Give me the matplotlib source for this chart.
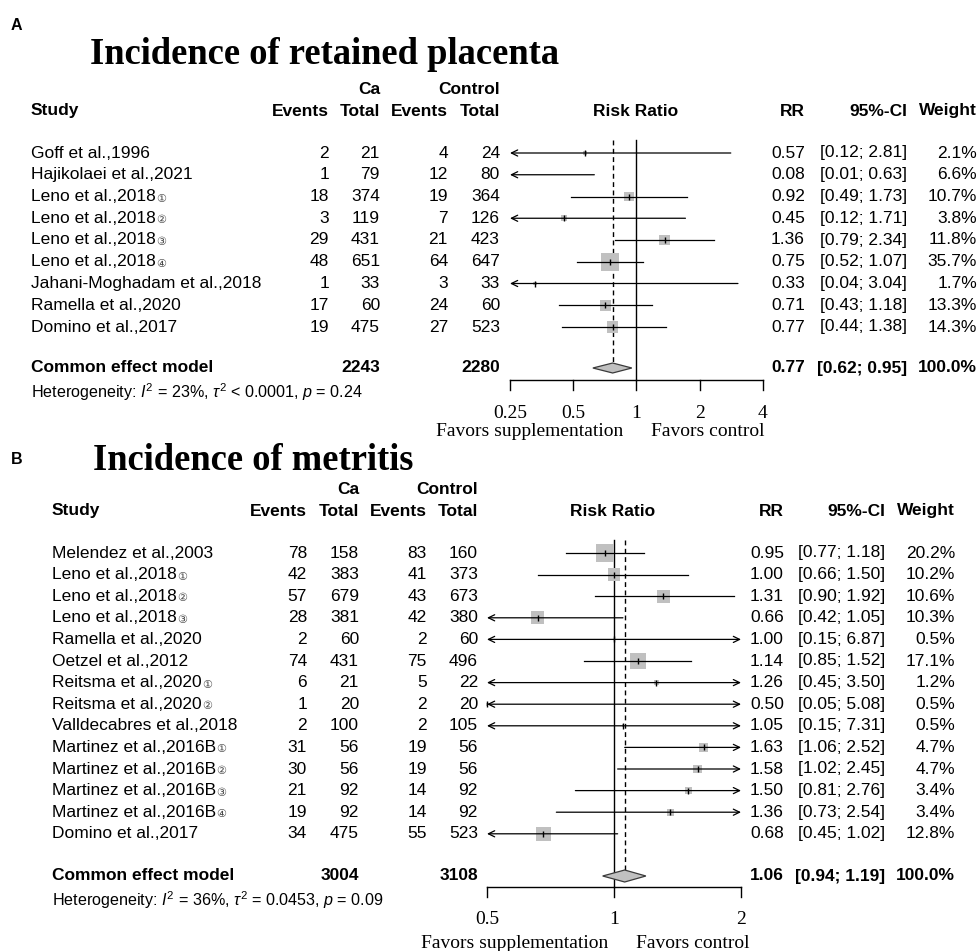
import matplotlib
matplotlib.use('Agg')
import matplotlib.pyplot as plt
import numpy as np

plt.rcParams['mathtext.fontset'] = 'custom'
plt.rcParams['mathtext.rm'] = 'Liberation Sans'
plt.rcParams['mathtext.it'] = 'Liberation Sans:italic'
plt.rcParams['mathtext.bf'] = 'Liberation Sans:bold'

SANS = ['Liberation Sans', 'DejaVu Sans']
SERIF = ['Liberation Serif', 'DejaVu Serif']

# ---------------- Data: Panel A ----------------
titleA = "Incidence of retained placenta"
studiesA = ["Goff et al.,1996", "Hajikolaei et al.,2021", "Leno et al.,2018", "Leno et al.,2018",
            "Leno et al.,2018", "Leno et al.,2018", "Jahani-Moghadam et al.,2018",
            "Ramella et al.,2020", "Domino et al.,2017"]
marksA = ["", "", "\u2460", "\u2461", "\u2462", "\u2463", "", "", ""]
evCaA = [2, 1, 18, 3, 29, 48, 1, 17, 19]
totCaA = [21, 79, 374, 119, 431, 651, 33, 60, 475]
evCtA = [4, 12, 19, 7, 21, 64, 3, 24, 27]
totCtA = [24, 80, 364, 126, 423, 647, 33, 60, 523]
rrA = [0.57, 0.08, 0.92, 0.45, 1.36, 0.75, 0.33, 0.71, 0.77]
loA = [0.12, 0.01, 0.49, 0.12, 0.79, 0.52, 0.04, 0.43, 0.44]
hiA = [2.81, 0.63, 1.73, 1.71, 2.34, 1.07, 3.04, 1.18, 1.38]
wA = [2.1, 6.6, 10.7, 3.8, 11.8, 35.7, 1.7, 13.3, 14.3]
pooledA = (0.77, 0.62, 0.95)
pooledTotA = (2243, 2280)
hetA = r"Heterogeneity: $I^2$ = 23%, $\tau^2$ < 0.0001, $p$ = 0.24"
ticksA = [0.25, 0.5, 1, 2, 4]
tickLabelsA = ["0.25", "0.5", "1", "2", "4"]

# ---------------- Data: Panel B ----------------
titleB = "Incidence of metritis"
studiesB = ["Melendez et al.,2003", "Leno et al.,2018", "Leno et al.,2018", "Leno et al.,2018",
            "Ramella et al.,2020", "Oetzel et al.,2012", "Reitsma et al.,2020", "Reitsma et al.,2020",
            "Valldecabres et al.,2018", "Martinez et al.,2016B", "Martinez et al.,2016B",
            "Martinez et al.,2016B", "Martinez et al.,2016B", "Domino et al.,2017"]
marksB = ["", "\u2460", "\u2461", "\u2462", "", "", "\u2460", "\u2461", "",
          "\u2460", "\u2461", "\u2462", "\u2463", ""]
evCaB = [78, 42, 57, 28, 2, 74, 6, 1, 2, 31, 30, 21, 19, 34]
totCaB = [158, 383, 679, 381, 60, 431, 21, 20, 100, 56, 56, 92, 92, 475]
evCtB = [83, 41, 43, 42, 2, 75, 5, 2, 2, 19, 19, 14, 14, 55]
totCtB = [160, 373, 673, 380, 60, 496, 22, 20, 105, 56, 56, 92, 92, 523]
rrB = [0.95, 1.00, 1.31, 0.66, 1.00, 1.14, 1.26, 0.50, 1.05, 1.63, 1.58, 1.50, 1.36, 0.68]
loB = [0.77, 0.66, 0.90, 0.42, 0.15, 0.85, 0.45, 0.05, 0.15, 1.06, 1.02, 0.81, 0.73, 0.45]
hiB = [1.18, 1.50, 1.92, 1.05, 6.87, 1.52, 3.50, 5.08, 7.31, 2.52, 2.45, 2.76, 2.54, 1.02]
wB = [20.2, 10.2, 10.6, 10.3, 0.5, 17.1, 1.2, 0.5, 0.5, 4.7, 4.7, 3.4, 3.4, 12.8]
pooledB = (1.06, 0.94, 1.19)
pooledTotB = (3004, 3108)
hetB = r"Heterogeneity: $I^2$ = 36%, $\tau^2$ = 0.0453, $p$ = 0.09"
ticksB = [0.5, 1, 2]
tickLabelsB = ["0.5", "1", "2"]

# ---------------- Figure ----------------
W, H = 979, 951
fig = plt.figure(figsize=(W / 100, H / 100), dpi=100)
bg = fig.add_axes([0, 0, 1, 1])
bg.set_xlim(0, W)
bg.set_ylim(H, 0)
bg.axis('off')
renderer = fig.canvas.get_renderer()

FS = 12.5
SQ = '#c0c0c0'


def draw_panel(letter, title, studies, marks, evCa, totCa, evCt, totCt, rr, lo, hi, w,
               pooled, pooledTot, het, ticks, tickLabels, L):
    # panel letter & title
    bg.text(L['letter'][0], L['letter'][1], letter, family=SANS, weight='bold', size=11.5,
            ha='left', va='center')
    bg.text(L['title'][0], L['title'][1], title, family=SERIF, weight='bold',
            size=L['title_fs'], ha='left', va='baseline')
    # headers
    hy1, hy2 = L['hy']
    c = L['cols']
    r = L['rcols']
    kw = dict(family=SANS, weight='bold', size=FS, va='center')
    bg.text(c[1], hy1, "Ca", ha='right', **kw)
    bg.text(c[3], hy1, "Control", ha='right', **kw)
    bg.text(L['sx'], hy2, "Study", ha='left', **kw)
    bg.text(c[0], hy2, "Events", ha='right', **kw)
    bg.text(c[1], hy2, "Total", ha='right', **kw)
    bg.text(c[2], hy2, "Events", ha='right', **kw)
    bg.text(c[3], hy2, "Total", ha='right', **kw)
    bg.text(L['rr_center'], hy2, "Risk Ratio", ha='center', **kw)
    bg.text(r[0], hy2, "RR", ha='right', **kw)
    bg.text(r[1], hy2, "95%-CI", ha='right', **kw)
    bg.text(r[2], hy2, "Weight", ha='right', **kw)

    n = len(studies)
    ys = [L['y0'] + i * L['dy'] for i in range(n)]
    kr = dict(family=SANS, size=FS, va='center')
    for i in range(n):
        y = ys[i]
        t = bg.text(L['sx'], y, studies[i], ha='left', **kr)
        if marks[i]:
            bb = t.get_window_extent(renderer)
            bg.text(bb.x1 + 0.5, y + 2, marks[i], family=['DejaVu Sans'], size=8,
                    color='#444444', ha='left', va='center')
        bg.text(c[0], y, str(evCa[i]), ha='right', **kr)
        bg.text(c[1], y, str(totCa[i]), ha='right', **kr)
        bg.text(c[2], y, str(evCt[i]), ha='right', **kr)
        bg.text(c[3], y, str(totCt[i]), ha='right', **kr)
        bg.text(r[0], y, f"{rr[i]:.2f}", ha='right', **kr)
        bg.text(r[1], y, f"[{lo[i]:.2f}; {hi[i]:.2f}]", ha='right', **kr)
        bg.text(r[2], y, f"{w[i]:.1f}%", ha='right', **kr)
    py = L['py']
    kb = dict(family=SANS, size=FS, va='center', weight='bold')
    bg.text(L['sx'], py, "Common effect model", ha='left', **kb)
    bg.text(c[1], py, str(pooledTot[0]), ha='right', **kb)
    bg.text(c[3], py, str(pooledTot[1]), ha='right', **kb)
    bg.text(r[0], py, f"{pooled[0]:.2f}", ha='right', **kb)
    bg.text(r[1], py, f"[{pooled[1]:.2f}; {pooled[2]:.2f}]", ha='right', **kb)
    bg.text(r[2], py, "100.0%", ha='right', **kb)
    bg.text(L['sx'], L['hety'], het, family=SANS, size=11.6, ha='left', va='center')

    # forest axes
    x0, x1 = L['fx']
    ax = fig.add_axes([x0 / W, 0, (x1 - x0) / W, 1])
    ax.set_xscale('log')
    xmin, xmax = ticks[0], ticks[-1]
    ax.set_xlim(xmin, xmax)
    ax.set_ylim(H, 0)
    ax.axis('off')
    ax.patch.set_alpha(0)

    # reference line and pooled dashed line
    ax.plot([1, 1], [L['reftop'], L['axy']], color='black', lw=1.0, clip_on=False, zorder=1)
    ax.plot([pooled[0], pooled[0]], [L['reftop'], py - L['dh']], color='black', lw=1.0,
            ls=(0, (3.5, 2.5)), clip_on=False, zorder=1)

    wmax = max(w)
    for i in range(n):
        y = ys[i]
        # square
        if xmin <= rr[i] <= xmax:
            side_px = L['sqmax'] * np.sqrt(w[i] / wmax)
            s = (side_px * 0.72) ** 2
            ax.scatter([rr[i]], [y], marker='s', s=s, color=SQ, edgecolors='none', zorder=2,
                       clip_on=False)
            ax.plot([rr[i]], [y], marker='|', ms=4.5, mew=1.0, color='black', zorder=4,
                    clip_on=False)
        a = max(lo[i], xmin)
        b = min(hi[i], xmax)
        left_out = lo[i] < xmin
        right_out = hi[i] > xmax
        if left_out and right_out:
            style = '<->'
        elif left_out:
            style = '<-'
        elif right_out:
            style = '->'
        else:
            style = '-'
        if style == '-':
            ax.plot([a, b], [y, y], color='black', lw=0.9, zorder=3, clip_on=False)
        else:
            ax.annotate('', xy=(b, y), xytext=(a, y),
                        arrowprops=dict(arrowstyle=style + ',head_length=0.45,head_width=0.22',
                                        lw=0.9, color='black', shrinkA=0, shrinkB=0),
                        zorder=3, annotation_clip=False)

    # diamond
    est, dl, du = pooled
    dh = L['dh']
    ax.fill([dl, est, du, est, dl], [py, py - dh, py, py + dh, py], facecolor=SQ,
            edgecolor='#3a3a3a', lw=0.9, zorder=3, clip_on=False)

    # x axis
    axy = L['axy']
    ax.plot([xmin, xmax], [axy, axy], color='black', lw=1.0, clip_on=False)
    for t, lab in zip(ticks, tickLabels):
        ax.plot([t, t], [axy, axy + 10], color='black', lw=1.0, clip_on=False)
        ax.text(t, L['tly'], lab, family=SERIF, size=14, ha='center', va='center')
    ax.annotate("Favors supplementation", xy=(1, L['favy']), xytext=(-L['favoff'][0], 0),
                textcoords='offset pixels', ha='right', va='center', family=SERIF, size=14)
    ax.annotate("Favors control", xy=(1, L['favy']), xytext=(L['favoff'][1], 0),
                textcoords='offset pixels', ha='left', va='center', family=SERIF, size=14)


LA = dict(letter=(11, 25), title=(90, 64), title_fs=26.3, hy=(90, 111), sx=31,
          cols=[329, 380, 448, 500], rr_center=636, rcols=[805, 907, 977],
          y0=153, dy=21.75, py=368, hety=392, fx=(510, 763), reftop=140, axy=380,
          tly=413, favy=432, favoff=(13, 15), dh=5, sqmax=18)
LB = dict(letter=(11, 460), title=(93, 470), title_fs=26.3, hy=(490, 511), sx=52,
          cols=[307, 359, 427, 478], rr_center=613, rcols=[784, 885, 955],
          y0=553, dy=21.6, py=876, hety=900, fx=(487, 741), reftop=540, axy=887,
          tly=920, favy=943, favoff=(6, 22), dh=6, sqmax=18)

draw_panel("A", titleA, studiesA, marksA, evCaA, totCaA, evCtA, totCtA, rrA, loA, hiA, wA,
           pooledA, pooledTotA, hetA, ticksA, tickLabelsA, LA)
draw_panel("B", titleB, studiesB, marksB, evCaB, totCaB, evCtB, totCtB, rrB, loB, hiB, wB,
           pooledB, pooledTotB, hetB, ticksB, tickLabelsB, LB)

fig.savefig("out.png", dpi=100)
